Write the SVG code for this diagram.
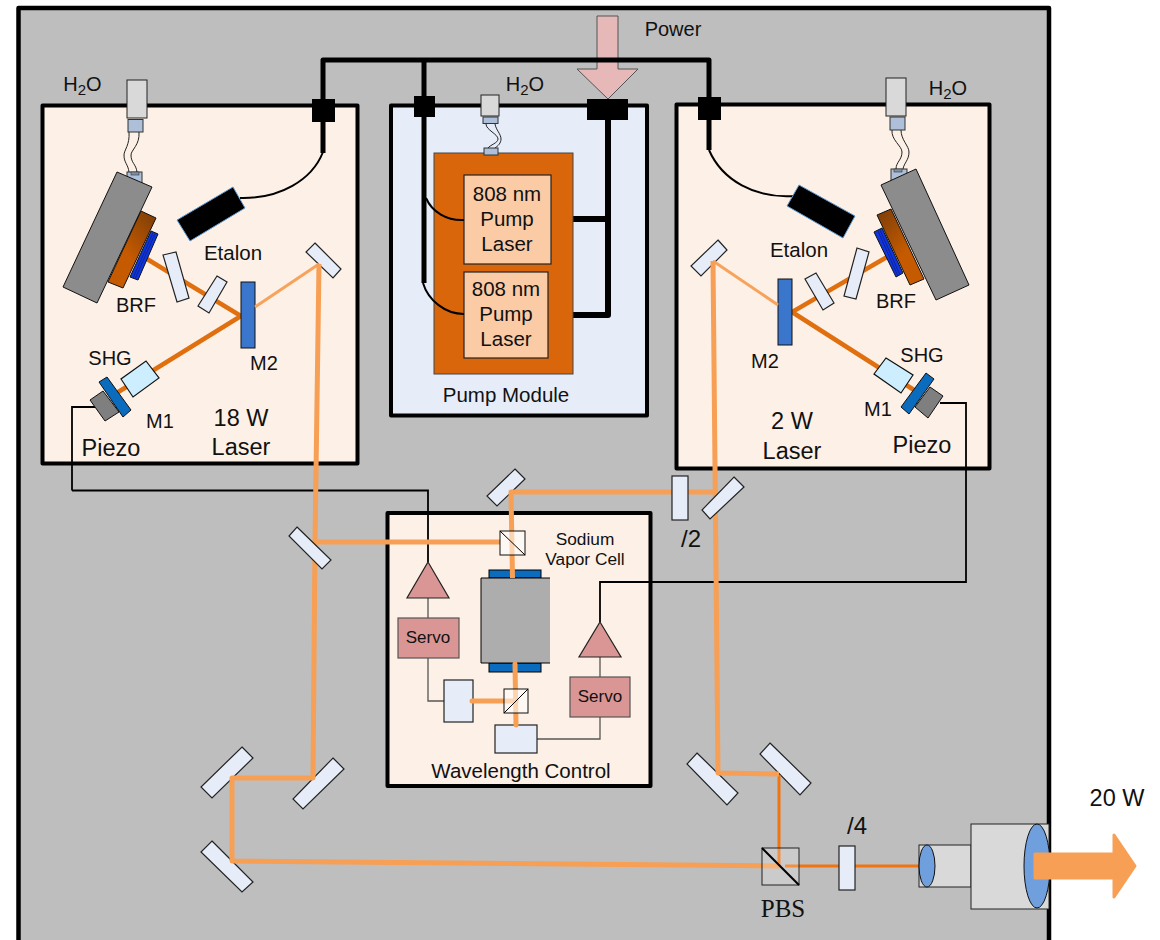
<svg xmlns="http://www.w3.org/2000/svg" width="1160" height="940" viewBox="0 0 1160 940">
<style>
text{font-family:"Liberation Sans",Arial,sans-serif;fill:#111;text-anchor:middle}
.s17{font-size:17px}.s20{font-size:20px}.s205{font-size:20.5px}.s235{font-size:23.5px}
.sub{font-size:15px}
.box{stroke:#000;stroke-width:4;stroke-linejoin:round}
.laser{fill:#fdf0e6}
.opt{fill:#e6edf8;stroke:#222;stroke-width:1.2}
.shg{fill:#cceeff;stroke:#111;stroke-width:1.2}
.m2{fill:#3a76cc;stroke:#111;stroke-width:1}
.m1{fill:#0b6bbd;stroke:#111;stroke-width:1}
.gray{fill:#8c8c8c;stroke:#111;stroke-width:1}
.pz{fill:#7f7f7f;stroke:#111;stroke-width:1}
.etalon{fill:#000;stroke:#5b9bd5;stroke-width:1}
.brf{fill:#0f35e0;stroke:#111;stroke-width:1}
.hatch{fill:none;stroke:#0b1f80;stroke-width:.8}
.wc{fill:#d9d9d9;stroke:#222;stroke-width:1}
.wb{fill:#adbfd9;stroke:#333;stroke-width:1}
.hose{fill:none;stroke:#222;stroke-width:1}
.bd{fill:none;stroke:#e0700f;stroke-width:4.5}
.bl{fill:none;stroke:#f7a35c;stroke-width:3}
.bm{fill:none;stroke:#f79f54;stroke-width:5;stroke-linejoin:round}
.bo{fill:none;stroke:#f07510;stroke-width:3}
.wt{fill:none;stroke:#000;stroke-width:1.8}
.wc2{fill:none;stroke:#000;stroke-width:2}
.wg{fill:none;stroke:#555;stroke-width:1.3}
.pw{fill:none;stroke:#000;stroke-width:5;stroke-linejoin:round}
.pw6{fill:none;stroke:#000;stroke-width:6;stroke-linejoin:round}
.servo{fill:#d99694;stroke:#555;stroke-width:1.2}
.amp{fill:#d99694;stroke:#222;stroke-width:1.2}
.pl{fill:#fbcba6;stroke:#222;stroke-width:1.2}
.cube{fill:#fff;fill-opacity:.55;stroke:#111;stroke-width:1}
.lens{fill:#6f9fdc;stroke:#111;stroke-width:1}
</style>
<defs>
<linearGradient id="brown1" x1="0.9" y1="0" x2="0.3" y2="0.8"><stop offset="0" stop-color="#7f3f08"/><stop offset="0.75" stop-color="#c55a00"/></linearGradient>
<linearGradient id="brown2" x1="0.1" y1="0" x2="0.7" y2="0.8"><stop offset="0" stop-color="#7f3f08"/><stop offset="0.75" stop-color="#c55a00"/></linearGradient>
</defs>

<rect id="enclosure" x="18.5" y="8" width="1030.5" height="945" fill="#bebebe" stroke="#000" stroke-width="4.5" stroke-linejoin="round"/>

<g id="laser-18w"><rect class="box laser" x="42.5" y="105.5" width="315" height="358"/></g>
<g id="pump-module"><rect class="box" fill="#e6edf8" x="391" y="105.5" width="256" height="310"/></g>
<g id="laser-2w"><rect class="box laser" x="676.5" y="104.5" width="313" height="364"/></g>
<g id="wavelength-control"><rect class="box laser" x="387.5" y="513" width="263" height="273"/></g>

<g id="power-arrow"><polygon points="597,16 618,16 618,69 638,69 608,99 577,69 597,69" fill="#e6b8b7" stroke="#555" stroke-width="1"/></g>

<g id="connectors">
<path class="wt" d="M72,490.5H428V562M72,490.5V407H95"/>
<path class="wt" d="M600,622V582H966V403H940"/>
<path class="wg" d="M428,598V618M428,658V701H444M600,657V677M600,717V739H537"/>
<path class="pw" d="M323,153V60H709V150"/>
<path class="pw" d="M424,60V283"/>
<path class="pw6" d="M608,120V315H573M608,219H573"/>
<path class="wc2" d="M323,152C312,180 280,199 240,198"/>
<path class="wc2" d="M709,150C722,180 755,199 795,196"/>
</g>

<g id="power-blocks">
<rect x="312" y="99" width="23" height="23"/><rect x="414" y="96" width="21" height="21"/><rect x="587" y="99" width="41" height="21"/><rect x="698" y="97" width="23" height="23"/>
</g>

<g id="beams-back">
<path class="bd" d="M147,259L241,316L115,394"/>
<path class="bd" d="M887,257L792,312L914,390"/>
</g>

<g id="water-left"><rect class="wc" x="127" y="80" width="20" height="38"/><rect class="wb" x="128" y="119.5" width="15" height="12.5"/>
<rect class="wb" x="127" y="172" width="15" height="12"/><rect x="131" y="172" width="8" height="3" fill="#8090a8" stroke="#333" stroke-width=".6"/>
<path class="hose" d="M129,132C130,145 124,150 124,155C124,163 128,164 129,172M139,132C140,145 131,150 131,155C131,163 136,164 137,172"/></g>
<g id="water-pump"><rect class="wc" x="481" y="95" width="18" height="21"/><rect class="wb" x="483" y="117" width="15" height="6.5"/>
<path class="hose" d="M486,124C486,130 498,134 498,139C498,143 490,145 488,148M495,124C496,130 501,134 501,139C501,143 498,146 495,148"/></g>
<g id="water-right"><rect class="wc" x="886" y="78" width="20" height="38"/><rect class="wb" x="890" y="117" width="15" height="13"/>
<rect class="wb" x="891" y="169" width="16" height="12"/><rect x="894" y="169" width="8" height="3" fill="#8090a8" stroke="#333" stroke-width=".6"/>
<path class="hose" d="M892,130C891,140 902,146 902,152C902,160 896,162 896,169M901,130C901,140 909,146 909,152C909,160 904,163 903,169"/></g>

<g id="cavity-left">
<polygon class="gray" points="117,172 152,187 97,303 63,287"/>
<polygon points="141,211 156,218 123,288 108,282" fill="url(#brown1)" stroke="#111"/>
<polygon class="brf" points="151,231 158,234 138,280 130,277"/>
<path class="hatch" d="M153,233L133,278M155,234L135,279"/>
<polygon class="etalon" points="233,187 245,208 190,241 177,220"/>
<polygon class="opt" points="163,255 176,252 189,298 177,302"/>
<polygon class="opt" points="217,276 227,282 209,313 198,306"/>
<rect class="m2" x="241" y="282" width="14" height="66"/>
<polygon class="opt" points="315,243 341,269 333,278 306,252"/>
<polygon class="shg" points="146,361 159,378 133,397 121,379"/>
<polygon class="m1" points="107,377 131,410 123,417 99,382"/>
<polygon class="pz" points="103,391 119,412 105,421 90,400"/>
</g>

<g id="cavity-right">
<polygon class="gray" points="916,169 969,285 936,300 881,185"/>
<polygon points="891,209 924,279 910,285 877,215" fill="url(#brown2)" stroke="#111"/>
<polygon class="brf" points="882,228 903,273 896,277 874,232"/>
<path class="hatch" d="M880,230L900,275M878,231L898,276"/>
<polygon class="etalon" points="799,185 855,216 843,238 787,206"/>
<polygon class="opt" points="857,248 869,252 856,299 844,296"/>
<polygon class="opt" points="816,273 834,303 823,310 805,279"/>
<rect class="m2" x="778" y="279" width="14" height="66"/>
<polygon class="opt" points="718,240 727,250 701,276 691,266"/>
<polygon class="shg" points="886,358 913,375 901,393 874,374"/>
<polygon class="pz" points="930,387 943,396 928,418 915,407"/>
<polygon class="m1" points="926,373 934,379 909,414 901,407"/>
</g>

<g id="pump-lasers">
<rect x="434" y="153" width="139" height="221" fill="#d9660a" stroke="#444" stroke-width="1"/>
<rect class="wb" x="484" y="148" width="14" height="7"/>
<rect class="pl" x="464" y="175" width="87" height="89"/>
<rect class="pl" x="464" y="272" width="84" height="86"/>
<path class="wc2" d="M426,198C432,212 447,221 464,220"/>
<path class="wc2" d="M423,283C428,300 445,314 464,314"/>
</g>
<g id="vapor-cell">
<rect x="489" y="570" width="52" height="8" fill="#0b6bbd" stroke="#000" stroke-width="1"/>
<rect x="489" y="663" width="52" height="9" fill="#0b6bbd" stroke="#000" stroke-width="1"/>
<rect x="481" y="578" width="69" height="85" fill="#adadad"/>
<path d="M550,578H481V663H550" fill="none" stroke="#000" stroke-width="1"/>
</g>
<g id="mirrors">
<polygon class="opt" points="515,469 525,479 497,506 487,496"/>
<polygon class="opt" points="242,747 253,758 212,798 201,787"/>
<polygon class="opt" points="333,758 344,769 303,809 293,799"/>
<polygon class="opt" points="212,841 253,882 242,892 201,852"/>
<polygon class="opt" points="697,753 738,793 727,805 687,764"/>
<polygon class="opt" points="770,743 811,783 800,795 760,754"/>
</g>
<g id="beams-front">
<path class="bo" d="M779,775V866M785,866H920"/>
<path class="bl" d="M255,307L319,264M778,305L713,261"/>
<path class="bm" d="M319,264L315,542H500"/>
<path class="bm" d="M315,542L313,778H232V861L780,866"/>
<path class="bm" d="M713,261L718,773L779,774"/>
<path class="bm" d="M718,492L511,492L512.5,578"/>
</g>
<g id="front-optics">
<polygon class="opt" points="297,527 331,560 322,569 289,536"/>
<polygon class="opt" points="734,477 744,487 710,519 702,510"/>
<rect class="opt" x="672" y="476" width="16" height="44"/>
</g>
<g id="wavelength-parts">
<rect class="cube" x="500" y="531" width="25" height="24"/><path class="wt" style="stroke-width:1" d="M500,531L525,555"/>
<rect class="opt" x="444" y="680" width="29" height="42"/>
<rect class="opt" x="495" y="725" width="42" height="28"/>
<path class="bm" d="M472,701H516" stroke-linecap="round"/>
<path class="bm" d="M515,664L516,725" stroke-linecap="round"/>
<rect class="cube" x="504" y="689" width="24" height="24"/><path class="wt" style="stroke-width:1" d="M504,713L528,689"/>
<polygon class="amp" points="428,562 449,598 407,598"/>
<polygon class="amp" points="600,622 621,657 579,657"/>
<rect class="servo" x="398" y="618" width="61" height="40"/>
<rect class="servo" x="570" y="677" width="60" height="40"/>
</g>
<g id="output">
<rect class="opt" x="839" y="846" width="16" height="44"/>
<rect x="762" y="848" width="37" height="37" fill="#fff" fill-opacity=".2" stroke="#222" stroke-width="1"/>
<path d="M762,848L799,885" stroke="#000" stroke-width="2"/>
<rect class="wc" x="919" y="845" width="52" height="42"/>
<ellipse class="lens" cx="927" cy="866" rx="8" ry="21"/>
<rect class="wc" x="971" y="824" width="78" height="85"/>
<ellipse class="lens" cx="1037" cy="866" rx="13" ry="42"/>
<polygon points="1035,854 1114,854 1114,835 1135,866 1114,897 1114,878 1035,878" fill="#f79f54" stroke="#f79f54" stroke-width="3" stroke-linejoin="round"/>
</g>

<g id="labels">
<text class="s20" x="82.5" y="91">H<tspan class="sub" dy="4">2</tspan><tspan dy="-4">O</tspan></text>
<text class="s20" x="525" y="91">H<tspan class="sub" dy="4">2</tspan><tspan dy="-4">O</tspan></text>
<text class="s20" x="948" y="95">H<tspan class="sub" dy="4">2</tspan><tspan dy="-4">O</tspan></text>
<text class="s20" x="673" y="36">Power</text>
<text class="s205" x="233" y="260">Etalon</text>
<text class="s20" x="136" y="312">BRF</text>
<text class="s20" x="110" y="365">SHG</text>
<text class="s20" x="264" y="370">M2</text>
<text class="s20" x="160" y="428">M1</text>
<text class="s235" x="111" y="456">Piezo</text>
<text class="s235" x="241" y="426">18 W</text>
<text class="s235" x="241" y="455">Laser</text>
<text class="s205" x="799" y="257">Etalon</text>
<text class="s20" x="896" y="308">BRF</text>
<text class="s20" x="922" y="362">SHG</text>
<text class="s20" x="765" y="368">M2</text>
<text class="s20" x="878" y="416">M1</text>
<text class="s235" x="922" y="453">Piezo</text>
<text class="s235" x="792" y="429">2 W</text>
<text class="s235" x="792" y="459">Laser</text>
<text class="s205" x="507" y="201">808 nm</text><text class="s205" x="507" y="226">Pump</text><text class="s205" x="507" y="251">Laser</text>
<text class="s205" x="506" y="296">808 nm</text><text class="s205" x="506" y="321">Pump</text><text class="s205" x="506" y="346">Laser</text>
<text class="s205" x="506" y="402">Pump Module</text>
<text style="font-size:17.3px" x="585" y="545">Sodium</text><text style="font-size:17.3px" x="585" y="565">Vapor Cell</text>
<text class="s17" x="428" y="643">Servo</text><text class="s17" x="600" y="702">Servo</text>
<text class="s205" x="521" y="778">Wavelength Control</text>
<text style="font-size:24px" x="691" y="547">/2</text>
<text style="font-size:24px" x="857" y="834">/4</text>
<text style="font-family:'Liberation Serif','Times New Roman',serif;font-size:25px" x="783" y="917">PBS</text>
<text class="s235" x="1117" y="806">20 W</text>
</g>
</svg>
